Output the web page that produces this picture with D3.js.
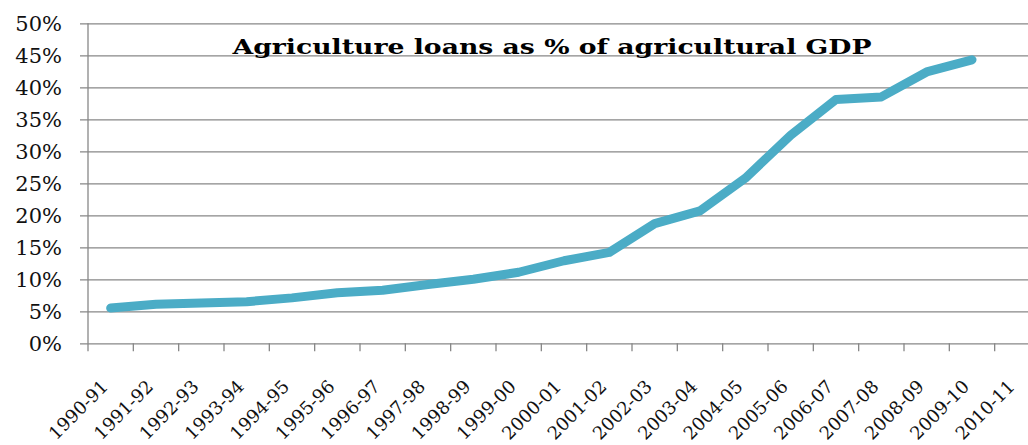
<!DOCTYPE html>
<html>
<head>
<meta charset="utf-8">
<script src="https://cdn.jsdelivr.net/npm/d3@7"></script>
<style>
  body { margin: 0; background: #fff; }
  svg { display: block; }
</style>
</head>
<body>
<div id="chart"></div>
<script>
// categories (fiscal years) and values (% of agricultural GDP)
const years = ["1990-91","1991-92","1992-93","1993-94","1994-95","1995-96","1996-97",
  "1997-98","1998-99","1999-00","2000-01","2001-02","2002-03","2003-04","2004-05",
  "2005-06","2006-07","2007-08","2008-09","2009-10","2010-11"];
const loanShare = [5.5, 6.1, 6.3, 6.5, 7.1, 7.9, 8.3, 9.2, 10.0, 11.1, 12.9, 14.2,
  18.7, 20.7, 25.8, 32.5, 38.1, 38.5, 42.4, 44.3];
const yTicks = [0, 5, 10, 15, 20, 25, 30, 35, 40, 45, 50];
const title = "Agriculture loans as % of agricultural GDP";

const width = 1028, height = 445;
// plot runs past the right edge, as in the original picture
var margin = {top: 23.3, left: 88, bottom: 343.3, right: 1040};
var gridColor = '#878787';

var svg = d3.select('#chart').append('svg')
    .attr('width', width)
    .attr('height', height);

var x = d3.scaleBand()
    .domain(years)
    .range([margin.left, margin.right]);

var y = d3.scaleLinear()
    .domain([0, 50])
    .range([margin.bottom, margin.top]);

//Gridlines + left ticks
var yAxis = d3.axisLeft(y)
    .tickValues(yTicks)
    .tickSize(-(margin.right - margin.left))
    .tickSizeOuter(0)
    .tickPadding(26)
    .tickFormat(d => d + '%');
var gy = svg.append('g')
    .attr('class', 'leftAxis')
    .attr('transform', 'translate(' + margin.left + ',0)')
    .call(yAxis);
gy.select('.domain').remove();
gy.selectAll('line')
    .attr('x1', -8)
    .attr('stroke', gridColor)
    .attr('stroke-width', 1.3);
gy.selectAll('text')
    .attr('fill', '#111')
    .attr('font-family', '"DejaVu Serif", Georgia, serif')
    .attr('font-size', 21);

//Vertical axis line
svg.append('line')
    .attr('x1', margin.left).attr('x2', margin.left)
    .attr('y1', margin.top).attr('y2', margin.bottom)
    .attr('stroke', gridColor)
    .attr('stroke-width', 1.3);

//Bottom axis: ticks on band boundaries, labels on band centres
var boundaries = years.map(d => x(d)).concat([margin.right]);
svg.append('g')
    .attr('class', 'bottomTicks')
    .selectAll('line')
    .data(boundaries)
    .enter()
    .append('line')
    .attr('x1', d => d).attr('x2', d => d)
    .attr('y1', margin.bottom).attr('y2', margin.bottom + 8)
    .attr('stroke', gridColor)
    .attr('stroke-width', 1.3);

svg.append('g')
    .attr('class', 'bottomLabels')
    .selectAll('text')
    .data(years)
    .enter()
    .append('text')
    .attr('transform', d => 'translate(' + (x(d) + x.bandwidth() / 2 - 6) + ',' + (margin.bottom + 40) + ') rotate(-45)')
    .attr('text-anchor', 'end')
    .attr('dy', '0.35em')
    .attr('fill', '#111')
    .attr('font-family', '"DejaVu Serif", Georgia, serif')
    .attr('font-size', 18)
    .text(d => d);

//The line
var line = d3.line()
    .x((d, i) => x(years[i]) + x.bandwidth() / 2)
    .y(d => y(d));

svg.append('path')
    .datum(loanShare)
    .attr('d', line)
    .attr('fill', 'none')
    .attr('stroke', '#4BACC6')
    .attr('stroke-width', 9)
    .attr('stroke-linecap', 'round')
    .attr('stroke-linejoin', 'round');

//Title
svg.append('text')
    .attr('x', 552)
    .attr('y', 54)
    .attr('text-anchor', 'middle')
    .attr('font-family', '"DejaVu Serif", Georgia, serif')
    .attr('font-weight', 'bold')
    .attr('font-size', 21)
    .attr('textLength', 639)
    .attr('lengthAdjust', 'spacingAndGlyphs')
    .attr('fill', '#000')
    .text(title);
</script>
</body>
</html>
